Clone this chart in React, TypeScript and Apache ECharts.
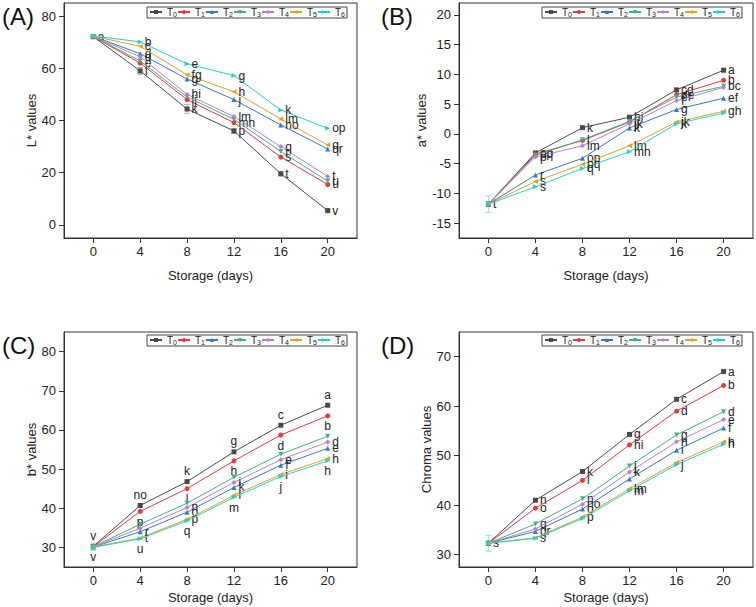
import React, { useEffect, useRef } from "react";
import * as echarts from "echarts";

const days = [0, 4, 8, 12, 16, 20];
const seriesNames = ["T0", "T1", "T2", "T3", "T4", "T5", "T6"];
const colors = ["#4a4a4a", "#e8383d", "#3a78c4", "#3fb27f", "#b77fd9", "#e0a02a", "#27d0c4"];
const symbols = ["rect", "circle", "triangle", "triangle", "diamond", "triangle", "triangle"];
const symbolRotates = [0, 0, 0, 180, 0, 90, -90];

// L* values
const lStar = [
  [72.1, 59.0, 44.4, 36.0, 19.6, 5.5],
  [72.1, 62.0, 48.0, 39.2, 26.0, 15.5],
  [72.2, 65.6, 55.9, 48.0, 38.3, 29.1],
  [72.2, 62.8, 49.0, 40.5, 28.1, 16.8],
  [72.2, 64.4, 50.0, 41.5, 30.0, 18.6],
  [72.3, 68.4, 57.5, 51.0, 40.6, 30.6],
  [72.4, 70.1, 61.7, 57.2, 44.0, 37.0],
];
const lStarLetters = [
  ["a", "f", "k", "p", "t", "v"],
  ["", "e", "ij", "mn", "s", "u"],
  ["", "d", "g", "j", "no", "qr"],
  ["", "", "", "", "r", "u"],
  ["", "d", "hi", "lm", "q", "t"],
  ["", "c", "fg", "h", "lm", "q"],
  ["", "b", "e", "g", "k", "op"],
];
const lStarErrT0 = [0.6, 1.3, 1.7, 1.0, 0.8, 0.3];

// a* values
const aStar = [
  [-11.8, -3.2, 1.05, 2.8, 7.4, 10.7],
  [-11.8, -3.4, -1.1, 2.0, 6.6, 9.0],
  [-11.8, -6.9, -4.1, 1.0, 4.1, 6.0],
  [-11.8, -3.6, -1.0, 2.1, 6.2, 8.0],
  [-11.8, -3.9, -2.0, 1.7, 5.6, 7.8],
  [-11.8, -8.0, -5.1, -2.0, 2.0, 3.8],
  [-11.8, -8.9, -5.8, -3.0, 1.7, 3.5],
];
const aStarLetters = [
  ["t", "op", "k", "hi", "cd", "a"],
  ["", "pq", "", "ij", "de", "b"],
  ["", "r", "op", "k", "g", "ef"],
  ["", "", "l", "", "ef", "bc"],
  ["", "p", "lm", "jk", "f", ""],
  ["", "s", "pq", "lm", "jk", "gh"],
  ["", "s", "q", "mn", "k", ""],
];
const aStarErrT6 = [1.4, 0, 0, 0, 0, 0];

// b* values
const bStar = [
  [30.3, 40.7, 46.8, 54.4, 61.2, 66.3],
  [30.2, 39.2, 45.0, 52.1, 58.7, 63.6],
  [30.1, 34.0, 39.0, 45.3, 51.0, 55.3],
  [30.2, 35.9, 41.3, 47.9, 53.8, 58.4],
  [30.2, 34.9, 40.2, 46.6, 52.4, 56.9],
  [30.1, 32.4, 37.2, 43.3, 48.6, 52.7],
  [30.0, 32.2, 36.8, 42.8, 48.1, 52.1],
];
const bStarLetters = [
  ["v", "no", "k", "g", "c", "a"],
  ["v", "p", "l", "h", "d", "b"],
  ["", "r", "o", "k", "f", "e"],
  ["", "", "", "", "", ""],
  ["", "", "n", "i", "e", "d"],
  ["", "t", "p", "l", "i", "h"],
  ["", "u", "q", "m", "j", "h"],
];
const bStarErrT6 = [0.8, 0, 0, 0, 0, 0];

// Chroma values
const chroma = [
  [32.3, 41.0, 46.8, 54.3, 61.4, 67.0],
  [32.3, 39.4, 45.0, 52.2, 59.0, 64.2],
  [32.3, 34.7, 39.2, 45.3, 51.1, 55.6],
  [32.3, 36.2, 41.3, 47.9, 54.2, 58.9],
  [32.3, 35.2, 40.2, 46.7, 52.8, 57.3],
  [32.3, 33.4, 37.6, 43.3, 48.6, 52.8],
  [32.3, 33.3, 37.3, 42.9, 48.2, 52.3],
];
const chromaLetters = [
  ["s", "n", "k", "g", "c", "a"],
  ["", "o", "l", "hi", "d", "b"],
  ["", "qr", "o", "", "i", "f"],
  ["", "q", "n", "j", "g", "d"],
  ["", "", "no", "k", "h", "e"],
  ["", "s", "p", "lm", "", "h"],
  ["", "", "", "m", "j", "h"],
];
const chromaErrT6 = [1.6, 0, 0, 0, 0, 0];

const yTicksA = [0, 20, 40, 60, 80];
const yTicksB = [-15, -10, -5, 0, 5, 10, 15, 20];
const yTicksC = [30, 40, 50, 60, 70, 80];
const yTicksD = [30, 40, 50, 60, 70];

const FONT = "'Liberation Sans', Arial, sans-serif";

export default function App() {
  const ref = useRef<HTMLDivElement>(null);
  useEffect(() => {
    if (!ref.current) return;
    const chart = echarts.init(ref.current, null, { renderer: "svg" });

    const grids = [
      { left: 64, top: 3, width: 293, height: 235 },
      { left: 459, top: 3, width: 294, height: 235 },
      { left: 64, top: 332, width: 293, height: 235 },
      { left: 459, top: 332, width: 294, height: 235 },
    ].map((g) => ({ ...g, show: true, borderColor: "#333", borderWidth: 1, backgroundColor: "transparent" }));

    const xAxisNameGaps = [31, 31, 24, 24];
    const xAxes = grids.map((_, i) => ({
      type: "value",
      gridIndex: i,
      min: -2.5,
      max: 22.5,
      name: "Storage (days)",
      nameLocation: "middle",
      nameGap: xAxisNameGaps[i],
      nameTextStyle: { fontSize: 13, color: "#222", fontFamily: FONT },
      axisLine: { show: true, onZero: false, lineStyle: { color: "#333", width: 1 } },
      axisTick: { show: true, customValues: days, length: 5, lineStyle: { color: "#333" } },
      axisLabel: { customValues: days, fontSize: 13, color: "#222", fontFamily: FONT, margin: 7 },
      splitLine: { show: false },
    }));

    const yConf = [
      { min: -5, max: 85, ticks: yTicksA, name: "L* values", gap: 20 },
      { min: -17.5, max: 22, ticks: yTicksB, name: "a* values", gap: 24 },
      { min: 25, max: 85, ticks: yTicksC, name: "b* values", gap: 20 },
      { min: 27.5, max: 75, ticks: yTicksD, name: "Chroma values", gap: 20 },
    ];
    const yAxes = yConf.map((c, i) => ({
      type: "value",
      gridIndex: i,
      min: c.min,
      max: c.max,
      name: c.name,
      nameLocation: "middle",
      nameGap: c.gap,
      nameTextStyle: { fontSize: 13, color: "#222", fontFamily: FONT },
      axisLine: { show: true, onZero: false, lineStyle: { color: "#333", width: 1 } },
      axisTick: { show: true, customValues: c.ticks, length: 5, lineStyle: { color: "#333" } },
      axisLabel: { customValues: c.ticks, fontSize: 13, color: "#222", fontFamily: FONT, margin: 8 },
      splitLine: { show: false },
    }));

    const panels = [
      { values: lStar, letters: lStarLetters },
      { values: aStar, letters: aStarLetters },
      { values: bStar, letters: bStarLetters },
      { values: chroma, letters: chromaLetters },
    ];

    const series: any[] = [];
    panels.forEach((p, pi) => {
      seriesNames.forEach((name, si) => {
        let labelPos: any = "right";
        let labelOffset: number[] = [0, 0];
        if (pi === 2 && si === 0) {
          labelPos = "top";
          labelOffset = [-6, 3];
        } else if (pi === 2 && si === 1) {
          labelPos = "bottom";
          labelOffset = [5, -2];
        } else if (pi === 2 && si === 6) {
          labelPos = "bottom";
          labelOffset = [2, -1];
        }
        series.push({
          type: "line",
          name,
          xAxisIndex: pi,
          yAxisIndex: pi,
          data: days.map((d, k) => [d, p.values[si][k]]),
          symbol: symbols[si],
          symbolRotate: symbolRotates[si],
          symbolSize: 5,
          showAllSymbol: true,
          lineStyle: { width: 1, color: colors[si] },
          itemStyle: { color: colors[si] },
          label: {
            show: true,
            position: labelPos,
            offset: labelOffset,
            distance: 2,
            fontSize: 12,
            color: "#222",
            fontFamily: FONT,
            formatter: (params: any) => p.letters[si][params.dataIndex] || "",
          },
          labelLayout: { hideOverlap: false },
          z: 3 + si,
        });
      });
    });

    const errSets = [
      { panel: 0, si: 0, vals: lStar[0], errs: lStarErrT0 },
      { panel: 1, si: 6, vals: aStar[6], errs: aStarErrT6 },
      { panel: 2, si: 6, vals: bStar[6], errs: bStarErrT6 },
      { panel: 3, si: 6, vals: chroma[6], errs: chromaErrT6 },
    ];
    errSets.forEach((e) => {
      const col = e.si === 0 ? "#b5b5b5" : "#8fe3da";
      series.push({
        type: "custom",
        name: "err" + e.panel,
        xAxisIndex: e.panel,
        yAxisIndex: e.panel,
        data: days
          .map((d, k) => [d, e.vals[k], e.errs[k]])
          .filter((r) => r[2] > 0),
        renderItem: (params: any, api: any) => {
          const x = api.value(0);
          const y = api.value(1);
          const er = api.value(2);
          const t = api.coord([x, y + er]);
          const b = api.coord([x, y - er]);
          const w = 3;
          const st = { stroke: col, lineWidth: 1 };
          return {
            type: "group",
            children: [
              { type: "line", shape: { x1: t[0], y1: t[1], x2: b[0], y2: b[1] }, style: st },
              { type: "line", shape: { x1: t[0] - w, y1: t[1], x2: t[0] + w, y2: t[1] }, style: st },
              { type: "line", shape: { x1: b[0] - w, y1: b[1], x2: b[0] + w, y2: b[1] }, style: st },
            ],
          };
        },
        z: 1,
        silent: true,
      });
    });

    const legendPos = [
      { left: 147, top: 7 },
      { left: 542, top: 7 },
      { left: 147, top: 335 },
      { left: 542, top: 335 },
    ];
    const legends = legendPos.map((lp) => ({
      ...lp,
      width: 260,
      orient: "horizontal",
      data: seriesNames,
      borderColor: "#444",
      borderWidth: 1,
      borderRadius: 0,
      padding: [0, 2, 0, 2],
      itemGap: 0,
      itemWidth: 12,
      itemHeight: 5,
      textStyle: {
        fontSize: 10,
        color: "#222",
        fontFamily: FONT,
        rich: {
          s: { fontSize: 7, color: "#222", fontFamily: FONT, padding: [5, 0, 0, 0] },
        },
      },
      formatter: (n: string) => "T{s|" + n.slice(1) + "}",
    }));

    const panelLabels = [
      { text: "(A)", x: 2, y: 4 },
      { text: "(B)", x: 381, y: 4 },
      { text: "(C)", x: 2, y: 333 },
      { text: "(D)", x: 381, y: 333 },
    ];

    chart.setOption({
      animation: false,
      backgroundColor: "#fff",
      grid: grids,
      xAxis: xAxes,
      yAxis: yAxes,
      legend: legends,
      series,
      graphic: panelLabels.map((pl) => ({
        type: "text",
        left: pl.x,
        top: pl.y,
        style: { text: pl.text, fontSize: 24, fill: "#111", fontFamily: FONT },
      })),
    });
    return () => chart.dispose();
  }, []);

  return (
    <div
      ref={ref}
      style={{ position: "absolute", left: 0, top: 0, width: 756, height: 607, background: "#fff" }}
    />
  );
}
